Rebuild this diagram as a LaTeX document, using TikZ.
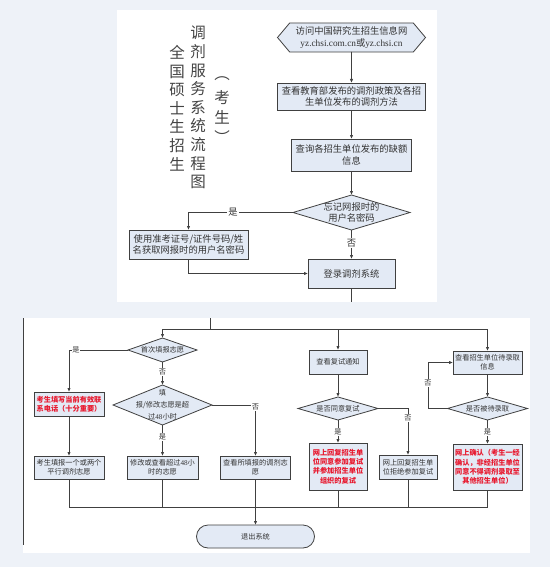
\documentclass[tikz,border=0pt]{standalone}
\usepackage{fontspec}
\setmainfont{Noto Sans CJK SC}
\newfontfamily\latin{Liberation Serif}
\usetikzlibrary{shapes.geometric,shapes.symbols,arrows.meta}
\definecolor{bgc}{HTML}{EEF2F8}
\definecolor{boxfill}{HTML}{E3EAF5}
\definecolor{linec}{HTML}{404040}
\definecolor{redt}{HTML}{E8182E}
\definecolor{txt}{HTML}{333333}
\definecolor{ttlc}{HTML}{444444}
\tikzset{
  base/.style={draw=linec, fill=boxfill, line width=0.8pt, inner sep=0pt, outer sep=0pt, align=center, text=txt},
  bigbox/.style={base, rectangle, font=\fontsize{9.3}{11.5}\selectfont},
  smallbox/.style={base, rectangle, font=\fontsize{7.2}{9.3}\selectfont},
  redbox/.style={smallbox, text=redt, font=\fontsize{7.2}{9.3}\selectfont\bfseries},
  dia/.style={base, diamond},
  hexa/.style={base, signal, signal to=west and east, signal pointer angle=100, font=\fontsize{9.3}{11.5}\selectfont},
  term/.style={base, rectangle, rounded corners=11.5pt, font=\fontsize{7.2}{9.3}\selectfont},
  conn/.style={draw=linec, line width=0.8pt},
  arr/.style={conn, -{Latex[length=4pt,width=3.4pt]}},
  labt/.style={fill=white, inner sep=1pt, text=txt, font=\fontsize{9.3}{11}\selectfont},
  labb/.style={fill=white, inner sep=0.8pt, text=txt, font=\fontsize{7.2}{9}\selectfont},
  dtxtt/.style={align=center, text=txt, inner sep=0pt, font=\fontsize{9.3}{11.5}\selectfont},
  dtxtb/.style={align=center, text=txt, inner sep=0pt, font=\fontsize{7.2}{9.3}\selectfont},
  ttl/.style={align=center, text=ttlc, inner sep=0pt, font=\fontsize{15.5}{18.6}\selectfont}
}
\begin{document}
\begin{tikzpicture}[x=1pt,y=-1pt]
\useasboundingbox (0,0) rectangle (550,567);
\fill[bgc] (0,0) rectangle (550,567);
\fill[white] (117,10) rectangle (437,302);
\fill[white] (23,318) rectangle (530,553);
\draw[conn] (23,318) -- (23,545);

% title
\node[ttl] (t1) at (177,108) {全\\国\\硕\\士\\生\\招\\生};
\node[ttl] (t2) at (198,107.5) {调\\剂\\服\\务\\系\\统\\流\\程\\图};
\node[ttl] (t3a) at (222,79) {︵};
\node[ttl] (t3b) at (222,98) {考};
\node[ttl] (t3c) at (222,117) {生};
\node[ttl] (t3d) at (222,137) {︶};

% top flow
\node[hexa, minimum width=148pt, minimum height=29pt] (h1) at (351.5,37.5) {访问中国研究生招生信息网\\{\latin yz.chsi.com.cn}或{\latin yz.chsi.cn}};
\node[bigbox, minimum width=148pt, minimum height=27pt] (b2) at (351.5,96.5) {查看教育部发布的调剂政策及各招\\生单位发布的调剂方法};
\node[bigbox, minimum width=120pt, minimum height=32pt] (b3) at (351.5,155) {查询各招生单位发布的缺额\\信息};
\node[dia, minimum width=117pt, minimum height=35pt,
  label={[dtxtt]center:忘记网报时的\\用户名密码}] (d1) at (351.5,212.5) {};
\node[bigbox, minimum width=119pt, minimum height=29pt] (b4) at (188.5,244.5) {使用准考证号/证件号码/姓\\名获取网报时的用户名密码};
\node[bigbox, minimum width=87pt, minimum height=29pt] (b5) at (351.5,273.5) {登录调剂系统};
\coordinate (tend) at (351.5,302);

\draw[arr] (h1) -- (b2);
\draw[arr] (b2) -- (b3);
\draw[arr] (b3) -- (d1);
\draw[arr] (d1.west) -| (b4.north);
\node[labt] (ls1) at (233,212.5) {是};
\draw[arr] (d1.south) -- (b5.north);
\node[labt] (lf1) at (351.5,243) {否};
\draw[arr] (b4.south) |- (b5.west);
\draw[conn] (b5.south) -- (tend);

% bottom flow
\coordinate (bj) at (210,318);
\coordinate (bh) at (210,329);
\coordinate (hl) at (162.5,329);
\coordinate (hr) at (487.5,329);
\node[dia, minimum width=69pt, minimum height=24pt,
  label={[dtxtb]center:首次填报志愿}] (d2) at (162.5,350) {};
\node[redbox, minimum width=70pt, minimum height=24pt] (r1) at (69,404) {考生填写当前有效联\\系电话（十分重要）};
\node[dia, minimum width=99pt, minimum height=40pt,
  label={[dtxtb, font=\fontsize{7.2}{11.8}\selectfont]center:填\\报/修改志愿是超\\过{\latin 48}小时}] (d3) at (162.5,405) {};
\node[smallbox, minimum width=70pt, minimum height=23pt] (bx1) at (69,467.5) {考生填报一个或两个\\平行调剂志愿};
\node[smallbox, minimum width=71pt, minimum height=23pt] (bx2) at (162.5,467.5) {修改或查看超过{\latin 48}小\\时的志愿};
\node[smallbox, minimum width=70pt, minimum height=23pt] (bx3) at (255.5,467.5) {查看所填报的调剂志\\愿};
\node[term, minimum width=118pt, minimum height=23pt] (ex) at (255.5,536.5) {退出系统};

\node[smallbox, minimum width=58pt, minimum height=24pt] (fu) at (338,362) {查看复试通知};
\node[dia, minimum width=80pt, minimum height=23pt,
  label={[dtxtb]center:是否同意复试}] (d4) at (338,408.5) {};
\node[redbox, minimum width=58pt, minimum height=47pt] (r2) at (338,466.5) {网上回复招生单\\位同意参加复试\\并参加招生单位\\组织的复试};
\node[smallbox, minimum width=58pt, minimum height=24pt] (bx5) at (408,467) {网上回复招生单\\位拒绝参加复试};

\node[smallbox, minimum width=69pt, minimum height=23pt] (dai) at (487.5,362.5) {查看招生单位待录取\\信息};
\node[dia, minimum width=80pt, minimum height=23pt,
  label={[dtxtb]center:是否被待录取}] (d5) at (487.5,408.5) {};
\node[redbox, minimum width=69pt, minimum height=46pt] (r3) at (487.5,467) {网上确认（考生一经\\确认，非经招生单位\\同意不得调剂录取至\\其他招生单位）};
\coordinate (lp) at (428,408.5);
\coordinate (jl) at (69,507);
\coordinate (jr) at (487.5,507);

\draw[conn] (bj) -- (bh);
\draw[conn] (hl) -- (hr);
\draw[arr] (hl) -- (d2.north);
\draw[arr] (fu.north |- hl) -- (fu.north);
\draw[arr] (hr) -- (dai.north);

\draw[arr] (d2.west) -| (r1.north);
\node[labb] (ls2) at (76,350) {是};
\draw[arr] (d2.south) -- (d3.north);
\node[labb] (lf2) at (162.5,372) {否};
\draw[arr] (d3.east) -| (bx3.north);
\node[labb] (lf3) at (255.5,407) {否};
\draw[arr] (d3.south) -- (bx2.north);
\node[labb] (ls3) at (162.5,437) {是};
\draw[arr] (r1.south) -- (bx1.north);

\draw[arr] (fu.south) -- (d4.north);
\draw[arr] (d4.south) -- (r2.north);
\node[labb] (ls4) at (338,432) {是};
\draw[arr] (d4.east) -| (bx5.north);
\node[labb] (lf4) at (408,418) {否};

\draw[arr] (dai.south) -- (d5.north);
\draw[arr] (d5.south) -- (r3.north);
\node[labb] (ls5) at (487.5,432) {是};
\draw[arr] (d5.west) -- (lp) |- (dai.west);
\node[labb] (lf5) at (428,383) {否};

\draw[conn] (bx1.south) -- (jl) -- (jr) -- (r3.south);
\draw[conn] (bx2.south) -- (bx2.south |- jl);
\draw[conn] (bx3.south) -- (bx3.south |- jl);
\draw[conn] (r2.south) -- (r2.south |- jl);
\draw[conn] (bx5.south) -- (bx5.south |- jl);
\draw[arr] (ex.north |- jl) -- (ex.north);
\end{tikzpicture}
\end{document}
